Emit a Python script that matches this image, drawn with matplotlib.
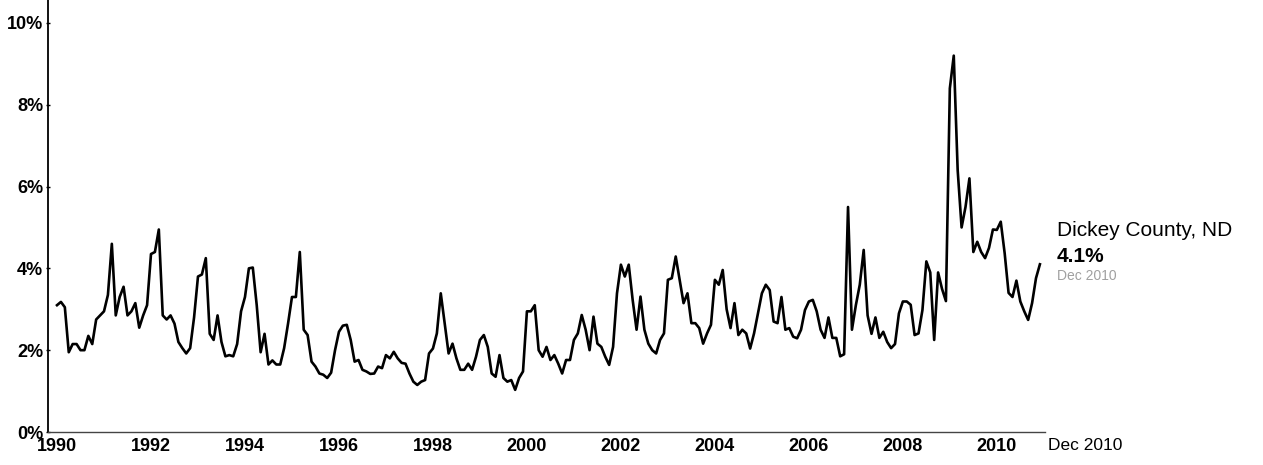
import matplotlib
matplotlib.use("Agg")
import matplotlib.pyplot as plt
import numpy as np

# ---- data (monthly unemployment rate, %, Jan 1990 - Dec 2010) ----
start_year = 1990
rate = [
    3.10, 3.18, 3.05, 1.95, 2.15, 2.15, 2.00, 2.00, 2.35, 2.15, 2.75, 2.85,  # 1990
    2.95, 3.35, 4.60, 2.85, 3.30, 3.55, 2.85, 2.95, 3.15, 2.55, 2.85, 3.10,  # 1991
    4.35, 4.40, 4.95, 2.85, 2.75, 2.85, 2.65, 2.20, 2.05, 1.92, 2.05, 2.80,  # 1992
    3.80, 3.85, 4.25, 2.40, 2.25, 2.85, 2.20, 1.85, 1.88, 1.85, 2.15, 2.95,  # 1993
    3.30, 4.00, 4.02, 3.10, 1.95, 2.40, 1.65, 1.75, 1.65, 1.65, 2.05, 2.65,  # 1994
    3.30, 3.30, 4.40, 2.50, 2.37, 1.72, 1.60, 1.43, 1.40, 1.32, 1.45, 2.00,  # 1995
    2.45, 2.60, 2.62, 2.25, 1.72, 1.76, 1.52, 1.48, 1.42, 1.43, 1.60, 1.56,  # 1996
    1.88, 1.80, 1.96, 1.80, 1.69, 1.67, 1.43, 1.23, 1.15, 1.23, 1.27, 1.92,  # 1997
    2.04, 2.41, 3.39, 2.66, 1.92, 2.16, 1.80, 1.52, 1.52, 1.67, 1.52, 1.84,  # 1998
    2.25, 2.37, 2.08, 1.43, 1.35, 1.88, 1.32, 1.23, 1.27, 1.03, 1.32, 1.48,  # 1999
    2.95, 2.95, 3.10, 2.00, 1.84, 2.08, 1.76, 1.88, 1.67, 1.43, 1.76, 1.76,  # 2000
    2.25, 2.41, 2.86, 2.50, 2.00, 2.82, 2.16, 2.08, 1.84, 1.64, 2.08, 3.39,  # 2001
    4.09, 3.80, 4.09, 3.23, 2.50, 3.31, 2.50, 2.16, 2.00, 1.92, 2.25, 2.41,  # 2002
    3.72, 3.76, 4.29, 3.72, 3.15, 3.39, 2.66, 2.66, 2.54, 2.16, 2.41, 2.62,  # 2003
    3.72, 3.60, 3.96, 3.00, 2.54, 3.15, 2.37, 2.50, 2.41, 2.04, 2.41, 2.90,  # 2004
    3.39, 3.60, 3.47, 2.70, 2.66, 3.30, 2.50, 2.54, 2.33, 2.29, 2.50, 2.98,  # 2005
    3.19, 3.23, 2.95, 2.50, 2.30, 2.80, 2.30, 2.30, 1.85, 1.90, 5.50, 2.50,  # 2006
    3.10, 3.60, 4.45, 2.85, 2.40, 2.80, 2.30, 2.45, 2.20, 2.05, 2.15, 2.90,  # 2007
    3.19, 3.19, 3.11, 2.37, 2.41, 2.98, 4.17, 3.90, 2.25, 3.90, 3.50, 3.20,  # 2008
    8.40, 9.20, 6.40, 5.00, 5.50, 6.20, 4.40, 4.65, 4.40, 4.25, 4.50, 4.95,  # 2009
    4.94, 5.14, 4.37, 3.40, 3.30, 3.70, 3.19, 2.95, 2.74, 3.15, 3.76, 4.10,  # 2010
]
tick_years = [1990, 1992, 1994, 1996, 1998, 2000, 2002, 2004, 2006, 2008, 2010]
tick_labels = ["1990", "1992", "1994", "1996", "1998", "2000", "2002",
               "2004", "2006", "2008", "2010"]
y_ticks = [0, 2, 4, 6, 8, 10]
y_labels = ["0%", "2%", "4%", "6%", "8%", "10%"]
end_label = "Dec 2010"
series_name = "Dickey County, ND"
last_value = "4.1%"
last_date = "Dec 2010"

# ---- figure ----
W, H = 1263, 465
fig = plt.figure(figsize=(W / 100, H / 100), dpi=100)
ax_left, ax_right, ax_bottom, ax_top = 48, 1045, 432, 0
ax = fig.add_axes([ax_left / W, (H - ax_bottom) / H,
                   (ax_right - ax_left) / W, (ax_bottom - ax_top) / H])

x = start_year + np.arange(len(rate)) / 12.0
ax.plot(x, rate, color="black", lw=1.9, solid_joinstyle="round")

ax.set_xlim(start_year - 2.3 / 12, start_year + 252.3 / 12)
ax.set_ylim(0, 10.56)

narrow = ["Liberation Sans Narrow", "Liberation Sans"]
sans = ["Liberation Sans", "DejaVu Sans"]
tick_font = dict(family=narrow, weight="bold", size=13)
ax.set_xticks(tick_years)
ax.set_xticklabels(tick_labels, **tick_font)
ax.set_yticks(y_ticks)
ax.set_yticklabels(y_labels, **tick_font)
ax.tick_params(axis="x", length=0, pad=4.5, colors="black")
ax.tick_params(axis="y", length=3, width=1, pad=2, direction="inout")

for s in ["top", "right"]:
    ax.spines[s].set_visible(False)
ax.spines["left"].set_linewidth(1.3)
ax.spines["left"].set_linestyle((0, (6, 1)))
ax.spines["bottom"].set_linewidth(1.0)
ax.spines["bottom"].set_linestyle((0, (2, 1)))
ax.spines["bottom"].set_color("#444444")

# "Dec 2010" label to the right of the last tick, aligned with tick labels
ax.annotate(end_label, xy=(start_year + 252.0 / 12, 0),
            xycoords=("data", "axes fraction"),
            xytext=(3, -4.5), textcoords="offset points",
            ha="left", va="top", fontsize=12.5, family=sans,
            annotation_clip=False)

# series annotation at right
fig.text(1057 / W, 1 - 236 / H, series_name, fontsize=15,
         family=sans, va="baseline", ha="left")
fig.text(1057 / W, 1 - 262 / H, last_value, fontsize=15, weight="bold",
         family=sans, va="baseline", ha="left")
fig.text(1057 / W, 1 - 280 / H, last_date, fontsize=10, color="#a0a0a0",
         family=sans, va="baseline", ha="left")

fig.savefig("out.png", dpi=100)
